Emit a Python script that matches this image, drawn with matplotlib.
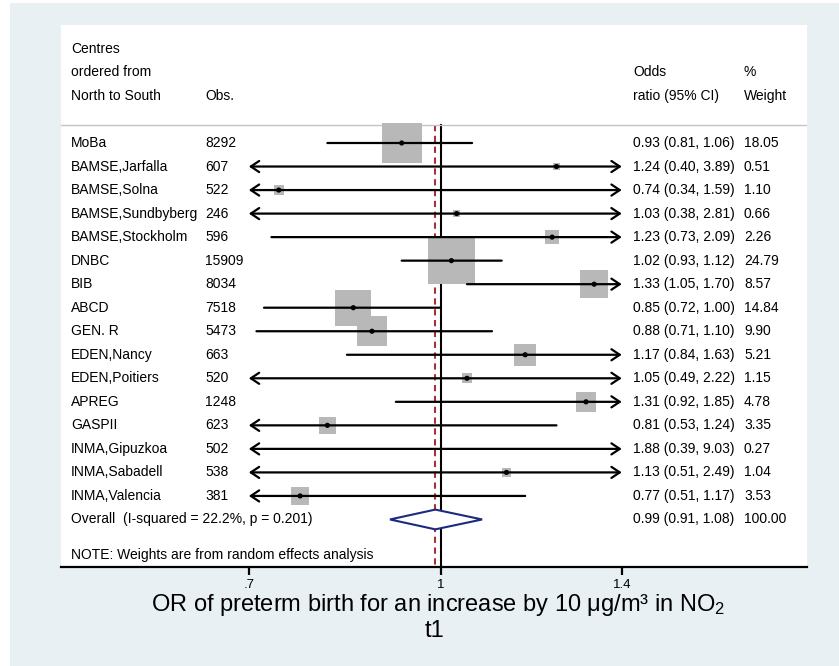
"""Forest plot: odds ratio of preterm birth per 10 ug/m3 NO2, by centre (t1)."""
import numpy as np
import matplotlib
matplotlib.use("Agg")
import matplotlib.pyplot as plt
from matplotlib.patches import Polygon

plt.rcParams["font.family"] = ["Liberation Sans", "DejaVu Sans"]
plt.rcParams["mathtext.fontset"] = "custom"
plt.rcParams["mathtext.rm"] = "Liberation Sans"
plt.rcParams["mathtext.it"] = "Liberation Sans:italic"

centres = ["MoBa", "BAMSE,Jarfalla", "BAMSE,Solna", "BAMSE,Sundbyberg",
           "BAMSE,Stockholm", "DNBC", "BIB", "ABCD", "GEN. R", "EDEN,Nancy",
           "EDEN,Poitiers", "APREG", "GASPII", "INMA,Gipuzkoa",
           "INMA,Sabadell", "INMA,Valencia"]
obs = [8292, 607, 522, 246, 596, 15909, 8034, 7518, 5473, 663, 520, 1248,
       623, 502, 538, 381]
odds = [0.93, 1.24, 0.74, 1.03, 1.23, 1.02, 1.33, 0.85, 0.88, 1.17, 1.05,
        1.31, 0.81, 1.88, 1.13, 0.77]
ci_lo = [0.81, 0.40, 0.34, 0.38, 0.73, 0.93, 1.05, 0.72, 0.71, 0.84, 0.49,
         0.92, 0.53, 0.39, 0.51, 0.51]
ci_hi = [1.06, 3.89, 1.59, 2.81, 2.09, 1.12, 1.70, 1.00, 1.10, 1.63, 2.22,
         1.85, 1.24, 9.03, 2.49, 1.17]
weights = [18.05, 0.51, 1.10, 0.66, 2.26, 24.79, 8.57, 14.84, 9.90, 5.21,
           1.15, 4.78, 3.35, 0.27, 1.04, 3.53]

overall_or = 0.99
overall_ci = (0.91, 1.08)
overall_weight = 100.00
overall_label = "Overall  (I-squared = 22.2%, p = 0.201)"
note = "NOTE: Weights are from random effects analysis"

tick_values = [0.7, 1.0, 1.4]
tick_labels = [".7", "1", "1.4"]
x_min, x_max = 0.7, 1.4  # CI lines are clipped here and get arrows

W, H = 839, 666
fig = plt.figure(figsize=(W / 100, H / 100), dpi=100)
fig.patch.set_facecolor("white")

# graph region background
bg = fig.add_axes([10 / W, 0, 829 / W, 663 / H], zorder=0)
bg.set_facecolor("#e9f0f3")
bg.set_xticks([])
bg.set_yticks([])
for s in bg.spines.values():
    s.set_visible(False)

ax = fig.add_axes([61 / W, (H - 567) / H, 746 / W, 542 / H], zorder=2)
ax.set_facecolor("white")
ax.set_xlim(-0.7058, 0.6808)
ax.set_ylim(18.02, -5.015)
for s in ["top", "left", "right"]:
    ax.spines[s].set_visible(False)
ax.spines["bottom"].set_linewidth(1.6)
ax.set_yticks([])
ax.set_xticks(np.log(tick_values))
ax.set_xticklabels(tick_labels, fontsize=9.5)
ax.tick_params(axis="x", length=6, width=1.6, pad=3)

fs = 10
blend = ax.get_yaxis_transform()  # x in axes fraction, y in rows
col_label, col_obs, col_or, col_wt = 0.0134, 0.193, 0.7668, 0.9155

# header
for txt, row in [("Centres", -4), ("ordered from", -3), ("North to South", -2)]:
    ax.text(col_label, row, txt, transform=blend, fontsize=fs, va="center")
ax.text(col_obs, -2, "Obs.", transform=blend, fontsize=fs, va="center")
ax.text(col_or, -3, "Odds", transform=blend, fontsize=fs, va="center")
ax.text(col_or, -2, "ratio (95% CI)", transform=blend, fontsize=fs, va="center")
ax.text(col_wt, -3, "%", transform=blend, fontsize=fs, va="center")
ax.text(col_wt, -2, "Weight", transform=blend, fontsize=fs, va="center")
ax.axhline(-0.765, color="#c4c4c4", lw=1.0)

# reference lines
ax.plot([0, 0], [-0.765, 18.02], color="black", lw=1.5, zorder=1)
ax.plot([np.log(overall_or)] * 2, [-0.765, 18.02], color="#a3323a", lw=1.5,
        dashes=(3, 2.2), zorder=1)

side_px = 9.415 * np.sqrt(np.array(weights))
for i, name in enumerate(centres):
    ax.text(col_label, i, name, transform=blend, fontsize=fs, va="center")
    ax.text(col_obs, i, str(obs[i]), transform=blend, fontsize=fs, va="center")
    ax.text(col_or, i, f"{odds[i]:.2f} ({ci_lo[i]:.2f}, {ci_hi[i]:.2f})",
            transform=blend, fontsize=fs, va="center")
    ax.text(col_wt, i, f"{weights[i]:.2f}", transform=blend, fontsize=fs,
            va="center")

    lo, hi = ci_lo[i], ci_hi[i]
    left_arrow, right_arrow = lo < x_min, hi > x_max
    a, b = np.log(max(lo, x_min)), np.log(min(hi, x_max))
    if left_arrow and right_arrow:
        style = "<->, head_length=0.6, head_width=0.4"
    elif right_arrow:
        style = "->, head_length=0.6, head_width=0.4"
    elif left_arrow:
        style = "<-, head_length=0.6, head_width=0.4"
    else:
        style = "-"
    ax.annotate("", xy=(b, i), xytext=(a, i), zorder=4,
                arrowprops=dict(arrowstyle=style, lw=1.6, color="black",
                                shrinkA=0, shrinkB=0, mutation_scale=10))
    if x_min <= odds[i] <= x_max:
        ax.scatter(np.log(odds[i]), i, marker="s", s=(0.72 * side_px[i]) ** 2,
                   color="#b8b8b8", edgecolors="none", zorder=3)
        ax.scatter(np.log(odds[i]), i, marker="o", s=14, color="black",
                   edgecolors="none", zorder=5)

# overall
row_o = len(centres)
ax.text(col_label, row_o, overall_label, transform=blend, fontsize=fs, va="center")
ax.text(col_or, row_o, f"{overall_or:.2f} ({overall_ci[0]:.2f}, {overall_ci[1]:.2f})",
        transform=blend, fontsize=fs, va="center")
ax.text(col_wt, row_o, f"{overall_weight:.2f}", transform=blend, fontsize=fs,
        va="center")
dh = 0.42
ax.add_patch(Polygon([(np.log(overall_ci[0]), row_o),
                      (np.log(overall_or), row_o - dh),
                      (np.log(overall_ci[1]), row_o),
                      (np.log(overall_or), row_o + dh)],
                     closed=True, facecolor="white", edgecolor="#1c2a80",
                     lw=1.5, zorder=4))
ax.text(col_label, row_o + 1.5, note, transform=blend, fontsize=fs, va="center")

fig.text(438 / W, (H - 605) / H,
         "OR of preterm birth for an increase by 10 μg/m³ in NO$_2$",
         ha="center", va="center", fontsize=17)
fig.text(434 / W, (H - 631) / H, "t1", ha="center", va="center", fontsize=17)

fig.savefig("out.png", dpi=100)
